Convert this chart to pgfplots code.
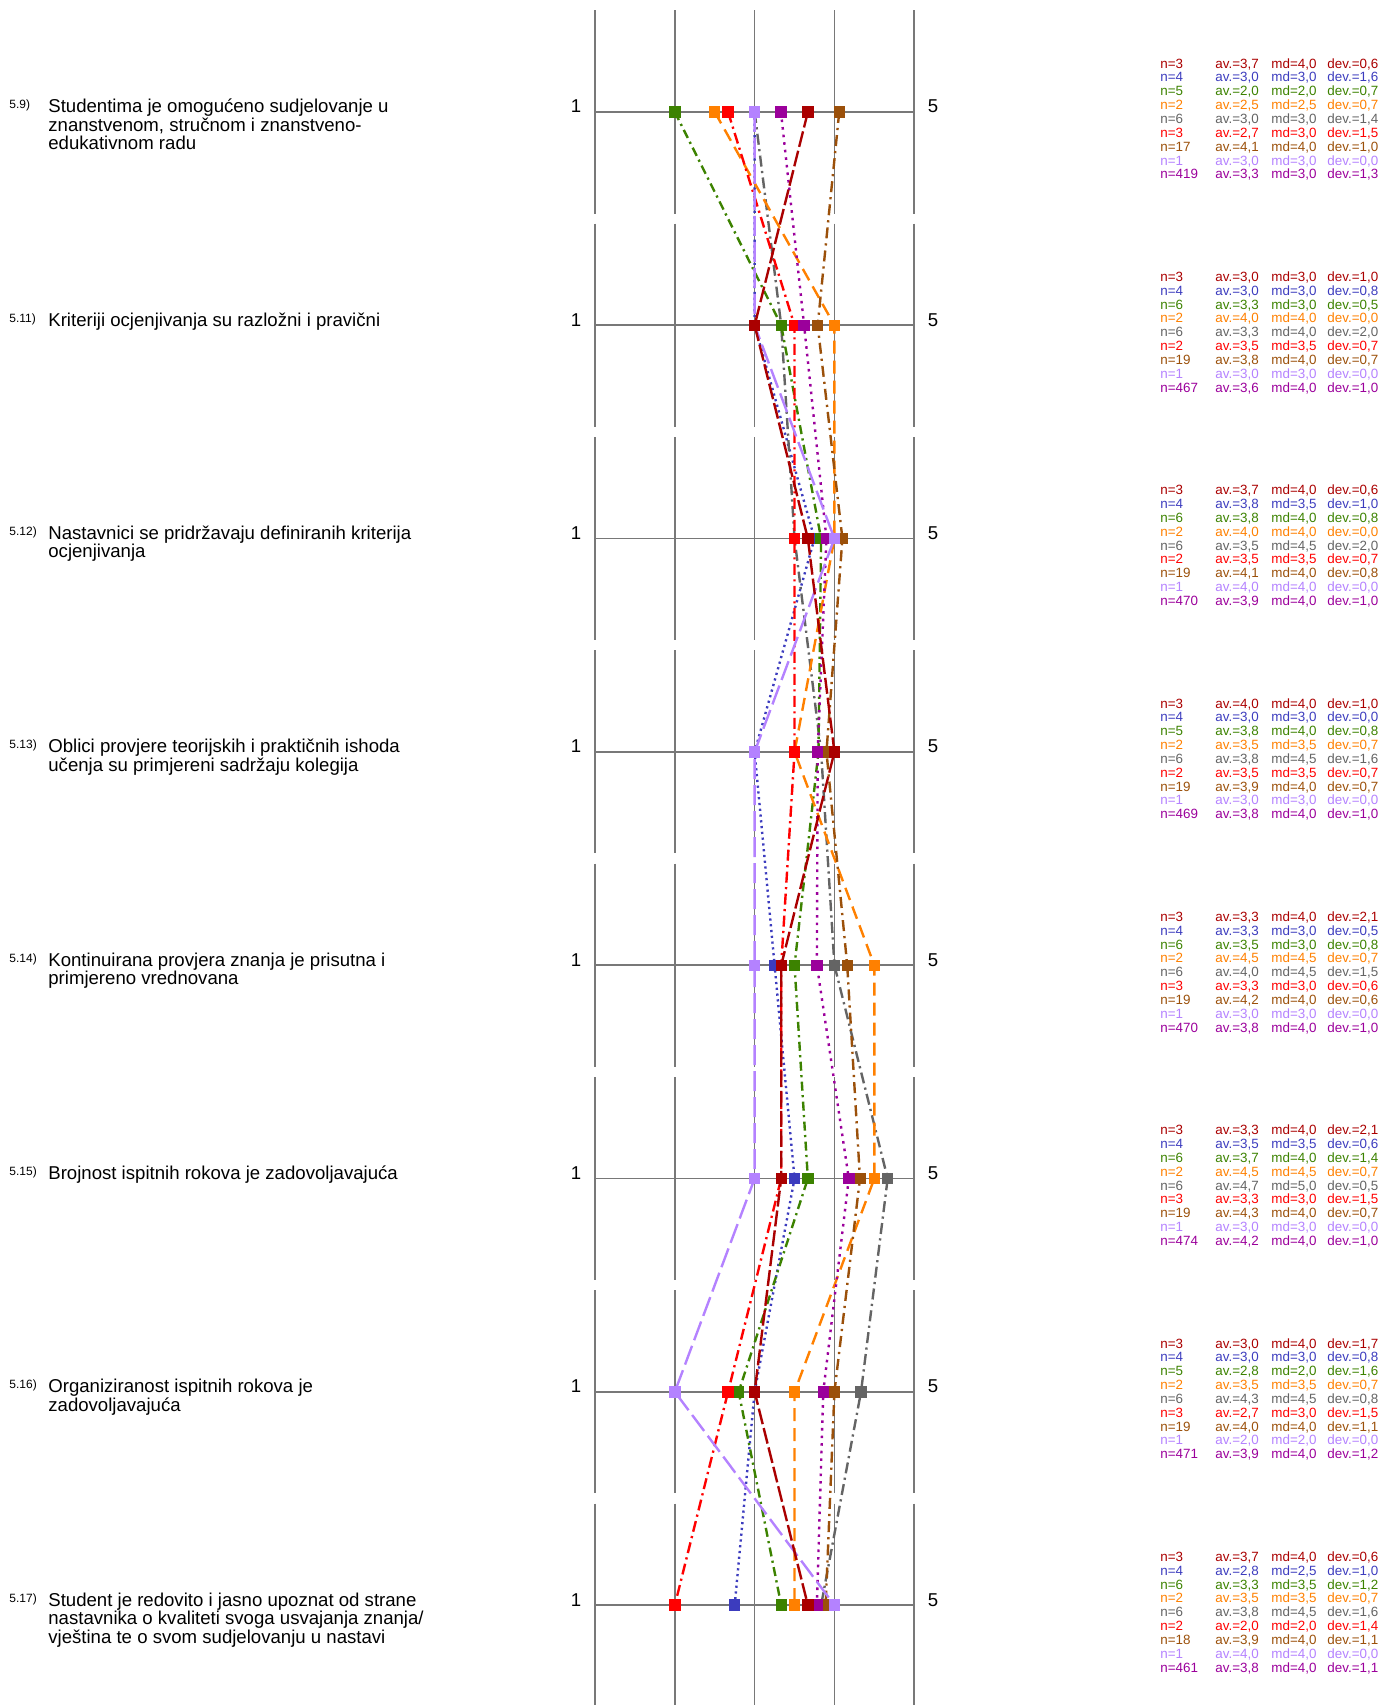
\documentclass[border=0pt]{standalone}
\usepackage{pgfplots}
\pgfplotsset{compat=1.18}
\usepackage{fontspec}
\setmainfont{Liberation Sans}
\definecolor{cDR}{RGB}{170,0,0}
\definecolor{cBL}{RGB}{60,60,190}
\definecolor{cGR}{RGB}{60,130,0}
\definecolor{cOR}{RGB}{255,128,0}
\definecolor{cGY}{RGB}{100,100,100}
\definecolor{cRD}{RGB}{255,0,0}
\definecolor{cBR}{RGB}{155,80,10}
\definecolor{cLP}{RGB}{180,130,255}
\definecolor{cPU}{RGB}{155,0,155}
\definecolor{gridc}{RGB}{120,120,120}
\newcommand{\statfont}{\fontsize{6.7pt}{6.875pt}\selectfont}
\newcommand{\sr}[5]{\makebox[27.5pt][l]{\textcolor{#1}{n=#2}}\makebox[28pt][l]{\textcolor{#1}{av.=#3}}\makebox[28pt][l]{\textcolor{#1}{md=#4}}\textcolor{#1}{dev.=#5}\\}
\newcommand{\rowgrid}[1]{%
 \draw[gridc, line width=0.8pt] (axis cs:1,-#1) -- (axis cs:5,-#1);
 \draw[gridc, line width=0.8pt] (axis cs:1,{-#1+0.476}) -- (axis cs:1,{-#1-0.476});
 \draw[gridc, line width=0.8pt] (axis cs:2,{-#1+0.476}) -- (axis cs:2,{-#1-0.476});
 \draw[gridc, line width=0.8pt] (axis cs:3,{-#1+0.476}) -- (axis cs:3,{-#1-0.476});
 \draw[gridc, line width=0.8pt] (axis cs:4,{-#1+0.476}) -- (axis cs:4,{-#1-0.476});
 \draw[gridc, line width=0.8pt] (axis cs:5,{-#1+0.476}) -- (axis cs:5,{-#1-0.476});
 \node[anchor=base, font=\fontsize{9.3pt}{10pt}\selectfont] at (axis cs:0.762,{-#1-0.004}) {1};
 \node[anchor=base, font=\fontsize{9.3pt}{10pt}\selectfont] at (axis cs:5.236,{-#1-0.004}) {5};
}
\newcommand{\labline}[3]{\node[anchor=base west, inner sep=0pt, font=\fontsize{9.3pt}{10pt}\selectfont] at (axis cs:-5.855,{-#1-0.004-0.0867*#2}) {#3};}
\newcommand{\labnum}[2]{\node[anchor=base west, inner sep=0pt, font=\fontsize{6pt}{7pt}\selectfont] at (axis cs:-6.343,{-#1+0.0140}) {#2};}
\begin{document}
\begin{tikzpicture}
\begin{axis}[name=ax, hide axis, clip=false,
  x=39.9pt, y=106.65pt,
  xmin=-6.456, xmax=10.90, ymin=-8.468, ymax=-0.475,
  every axis plot/.append style={line width=1.2pt, mark=square*, mark size=2.25pt, mark options={solid}}]
\rowgrid{1}\rowgrid{2}\rowgrid{3}\rowgrid{4}\rowgrid{5}\rowgrid{6}\rowgrid{7}\rowgrid{8}
% blue
\addplot[cBL, dash pattern=on 1.1pt off 1.8pt] coordinates {(3.0,-1) (3.0,-2) (3.75,-3) (3.0,-4) (3.25,-5) (3.5,-6) (3.0,-7) (2.75,-8)};
% gray
\addplot[cGY, dash pattern=on 5.5pt off 2.2pt on 1.1pt off 2.2pt] coordinates {(3.0,-1) (3.333,-2) (3.5,-3) (3.833,-4) (4.0,-5) (4.667,-6) (4.333,-7) (3.833,-8)};
% green
\addplot[cGR, dash pattern=on 4.5pt off 2.2pt on 1.1pt off 2.2pt] coordinates {(2.0,-1) (3.333,-2) (3.833,-3) (3.8,-4) (3.5,-5) (3.667,-6) (2.8,-7) (3.333,-8)};
% orange
\addplot[cOR, dash pattern=on 6.5pt off 3.5pt] coordinates {(2.5,-1) (4.0,-2) (4.0,-3) (3.5,-4) (4.5,-5) (4.5,-6) (3.5,-7) (3.5,-8)};
% red
\addplot[cRD, dash pattern=on 5.5pt off 2.2pt on 1.1pt off 2.2pt] coordinates {(2.667,-1) (3.5,-2) (3.5,-3) (3.5,-4) (3.333,-5) (3.333,-6) (2.667,-7) (2.0,-8)};
% brown
\addplot[cBR, dash pattern=on 5.5pt off 2.5pt on 1.1pt off 2.5pt] coordinates {(4.06,-1) (3.79,-2) (4.1,-3) (3.9,-4) (4.16,-5) (4.32,-6) (4.0,-7) (3.89,-8)};
% purple
\addplot[cPU, dash pattern=on 1.3pt off 2.5pt] coordinates {(3.33,-1) (3.62,-2) (3.9,-3) (3.79,-4) (3.78,-5) (4.18,-6) (3.86,-7) (3.78,-8)};
% light purple
\addplot[cLP, dash pattern=on 10pt off 3pt] coordinates {(3,-1) (3,-2) (4,-3) (3,-4) (3,-5) (3,-6) (2,-7) (4,-8)};
% dark red
\addplot[cDR, dash pattern=on 8pt off 2pt] coordinates {(3.667,-1) (3.0,-2) (3.667,-3) (4.0,-4) (3.333,-5) (3.333,-6) (3.0,-7) (3.667,-8)};
% labels
\labnum{1}{5.9)}
\labline{1}{0}{Studentima je omogućeno sudjelovanje u}
\labline{1}{1}{znanstvenom, stručnom i znanstveno-}
\labline{1}{2}{edukativnom radu}
\labnum{2}{5.11)}
\labline{2}{0}{Kriteriji ocjenjivanja su razložni i pravični}
\labnum{3}{5.12)}
\labline{3}{0}{Nastavnici se pridržavaju definiranih kriterija}
\labline{3}{1}{ocjenjivanja}
\labnum{4}{5.13)}
\labline{4}{0}{Oblici provjere teorijskih i praktičnih ishoda}
\labline{4}{1}{učenja su primjereni sadržaju kolegija}
\labnum{5}{5.14)}
\labline{5}{0}{Kontinuirana provjera znanja je prisutna i}
\labline{5}{1}{primjereno vrednovana}
\labnum{6}{5.15)}
\labline{6}{0}{Brojnost ispitnih rokova je zadovoljavajuća}
\labnum{7}{5.16)}
\labline{7}{0}{Organiziranost ispitnih rokova je}
\labline{7}{1}{zadovoljavajuća}
\labnum{8}{5.17)}
\labline{8}{0}{Student je redovito i jasno upoznat od strane}
\labline{8}{1}{nastavnika o kvaliteti svoga usvajanja znanja/}
\labline{8}{2}{vještina te o svom sudjelovanju u nastavi}
% stats
\node[anchor=north west, inner sep=0pt] at (axis cs:8.080,{-1+0.2528}) {\statfont\begin{tabular}{@{}l@{}}
\sr{cDR}{3}{3,7}{4,0}{0,6}\sr{cBL}{4}{3,0}{3,0}{1,6}\sr{cGR}{5}{2,0}{2,0}{0,7}\sr{cOR}{2}{2,5}{2,5}{0,7}\sr{cGY}{6}{3,0}{3,0}{1,4}\sr{cRD}{3}{2,7}{3,0}{1,5}\sr{cBR}{17}{4,1}{4,0}{1,0}\sr{cLP}{1}{3,0}{3,0}{0,0}\sr{cPU}{419}{3,3}{3,0}{1,3}
\end{tabular}};
\node[anchor=north west, inner sep=0pt] at (axis cs:8.080,{-2+0.2528}) {\statfont\begin{tabular}{@{}l@{}}
\sr{cDR}{3}{3,0}{3,0}{1,0}\sr{cBL}{4}{3,0}{3,0}{0,8}\sr{cGR}{6}{3,3}{3,0}{0,5}\sr{cOR}{2}{4,0}{4,0}{0,0}\sr{cGY}{6}{3,3}{4,0}{2,0}\sr{cRD}{2}{3,5}{3,5}{0,7}\sr{cBR}{19}{3,8}{4,0}{0,7}\sr{cLP}{1}{3,0}{3,0}{0,0}\sr{cPU}{467}{3,6}{4,0}{1,0}
\end{tabular}};
\node[anchor=north west, inner sep=0pt] at (axis cs:8.080,{-3+0.2528}) {\statfont\begin{tabular}{@{}l@{}}
\sr{cDR}{3}{3,7}{4,0}{0,6}\sr{cBL}{4}{3,8}{3,5}{1,0}\sr{cGR}{6}{3,8}{4,0}{0,8}\sr{cOR}{2}{4,0}{4,0}{0,0}\sr{cGY}{6}{3,5}{4,5}{2,0}\sr{cRD}{2}{3,5}{3,5}{0,7}\sr{cBR}{19}{4,1}{4,0}{0,8}\sr{cLP}{1}{4,0}{4,0}{0,0}\sr{cPU}{470}{3,9}{4,0}{1,0}
\end{tabular}};
\node[anchor=north west, inner sep=0pt] at (axis cs:8.080,{-4+0.2528}) {\statfont\begin{tabular}{@{}l@{}}
\sr{cDR}{3}{4,0}{4,0}{1,0}\sr{cBL}{4}{3,0}{3,0}{0,0}\sr{cGR}{5}{3,8}{4,0}{0,8}\sr{cOR}{2}{3,5}{3,5}{0,7}\sr{cGY}{6}{3,8}{4,5}{1,6}\sr{cRD}{2}{3,5}{3,5}{0,7}\sr{cBR}{19}{3,9}{4,0}{0,7}\sr{cLP}{1}{3,0}{3,0}{0,0}\sr{cPU}{469}{3,8}{4,0}{1,0}
\end{tabular}};
\node[anchor=north west, inner sep=0pt] at (axis cs:8.080,{-5+0.2528}) {\statfont\begin{tabular}{@{}l@{}}
\sr{cDR}{3}{3,3}{4,0}{2,1}\sr{cBL}{4}{3,3}{3,0}{0,5}\sr{cGR}{6}{3,5}{3,0}{0,8}\sr{cOR}{2}{4,5}{4,5}{0,7}\sr{cGY}{6}{4,0}{4,5}{1,5}\sr{cRD}{3}{3,3}{3,0}{0,6}\sr{cBR}{19}{4,2}{4,0}{0,6}\sr{cLP}{1}{3,0}{3,0}{0,0}\sr{cPU}{470}{3,8}{4,0}{1,0}
\end{tabular}};
\node[anchor=north west, inner sep=0pt] at (axis cs:8.080,{-6+0.2528}) {\statfont\begin{tabular}{@{}l@{}}
\sr{cDR}{3}{3,3}{4,0}{2,1}\sr{cBL}{4}{3,5}{3,5}{0,6}\sr{cGR}{6}{3,7}{4,0}{1,4}\sr{cOR}{2}{4,5}{4,5}{0,7}\sr{cGY}{6}{4,7}{5,0}{0,5}\sr{cRD}{3}{3,3}{3,0}{1,5}\sr{cBR}{19}{4,3}{4,0}{0,7}\sr{cLP}{1}{3,0}{3,0}{0,0}\sr{cPU}{474}{4,2}{4,0}{1,0}
\end{tabular}};
\node[anchor=north west, inner sep=0pt] at (axis cs:8.080,{-7+0.2528}) {\statfont\begin{tabular}{@{}l@{}}
\sr{cDR}{3}{3,0}{4,0}{1,7}\sr{cBL}{4}{3,0}{3,0}{0,8}\sr{cGR}{5}{2,8}{2,0}{1,6}\sr{cOR}{2}{3,5}{3,5}{0,7}\sr{cGY}{6}{4,3}{4,5}{0,8}\sr{cRD}{3}{2,7}{3,0}{1,5}\sr{cBR}{19}{4,0}{4,0}{1,1}\sr{cLP}{1}{2,0}{2,0}{0,0}\sr{cPU}{471}{3,9}{4,0}{1,2}
\end{tabular}};
\node[anchor=north west, inner sep=0pt] at (axis cs:8.080,{-8+0.2528}) {\statfont\begin{tabular}{@{}l@{}}
\sr{cDR}{3}{3,7}{4,0}{0,6}\sr{cBL}{4}{2,8}{2,5}{1,0}\sr{cGR}{6}{3,3}{3,5}{1,2}\sr{cOR}{2}{3,5}{3,5}{0,7}\sr{cGY}{6}{3,8}{4,5}{1,6}\sr{cRD}{2}{2,0}{2,0}{1,4}\sr{cBR}{18}{3,9}{4,0}{1,1}\sr{cLP}{1}{4,0}{4,0}{0,0}\sr{cPU}{461}{3,8}{4,0}{1,1}
\end{tabular}};
\end{axis}
\pgfresetboundingbox
\path[use as bounding box] (ax.south west) rectangle (ax.north east);
\end{tikzpicture}
\end{document}
